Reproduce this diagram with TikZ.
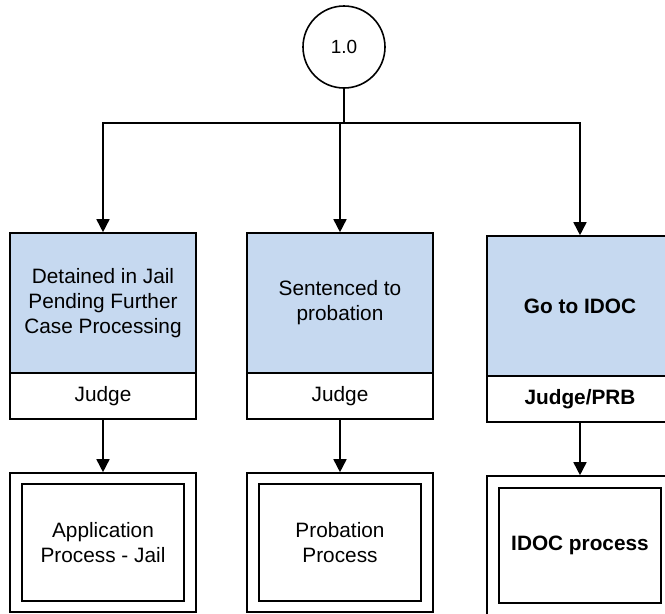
\documentclass[tikz,border=0pt]{standalone}
\usepackage{fontspec}
\setmainfont{Liberation Sans}
\usetikzlibrary{arrows.meta}

\definecolor{stageBlue}{RGB}{198,217,240}

\tikzstyle{startNode}=[circle,draw,line width=1.6pt,minimum size=82pt,inner sep=0pt,font=\fontsize{19}{22}\selectfont]
\tikzstyle{stageNode}=[rectangle,draw,line width=1.6pt,fill=stageBlue,minimum width=186pt,minimum height=140pt,align=center,font=\fontsize{20.8}{25}\selectfont]
\tikzstyle{roleNode}=[rectangle,draw,line width=1.6pt,fill=white,minimum width=186pt,minimum height=46pt,font=\fontsize{20.8}{25}\selectfont]
\tikzstyle{procNode}=[rectangle,draw,line width=1.6pt,minimum width=186pt,minimum height=139pt]
\tikzstyle{innerNode}=[rectangle,draw,line width=1.6pt,minimum width=162pt,minimum height=117pt,align=center,font=\fontsize{20.8}{25}\selectfont]

\begin{document}
\begin{tikzpicture}[x=1pt,y=-1pt,>={Triangle[width=13pt,length=13pt]}]

  \path[use as bounding box,clip] (0,0) rectangle (665,614);

  \node[startNode] (start) at (344,47) {1.0};
  \coordinate (fork) at (344,123);

  \node[stageNode] (jail) at (103,303) {Detained in Jail\\Pending Further\\Case Processing};
  \node[stageNode] (probation) at (340,303) {Sentenced to\\probation};
  \node[stageNode] (idoc) at (580,306) {\bfseries Go to IDOC};

  \node[roleNode] (jailRole) at (103,396) {Judge};
  \node[roleNode] (probationRole) at (340,396) {Judge};
  \node[roleNode] (idocRole) at (580,399) {\bfseries Judge/PRB};

  \node[procNode] (jailProc) at (103,542.5) {};
  \node[innerNode] (jailInner) at (jailProc.center) {Application\\Process - Jail};
  \node[procNode] (probationProc) at (340,542.5) {};
  \node[innerNode] (probationInner) at (probationProc.center) {Probation\\Process};
  \node[procNode] (idocProc) at (580,545.5) {};
  \node[innerNode,minimum height=115pt] (idocInner) at (idocProc.center) {\bfseries IDOC process};

  \path[draw,line width=1.6pt](start)--(fork);
  \path[->,draw,line width=1.6pt](fork)-|(jail.north);
  \path[->,draw,line width=1.6pt](fork)-|(probation.north);
  \path[->,draw,line width=1.6pt](fork)-|(idoc.north);
  \path[->,draw,line width=1.6pt](jailRole)--(jailProc);
  \path[->,draw,line width=1.6pt](probationRole)--(probationProc);
  \path[->,draw,line width=1.6pt](idocRole)--(idocProc);

\end{tikzpicture}
\end{document}
